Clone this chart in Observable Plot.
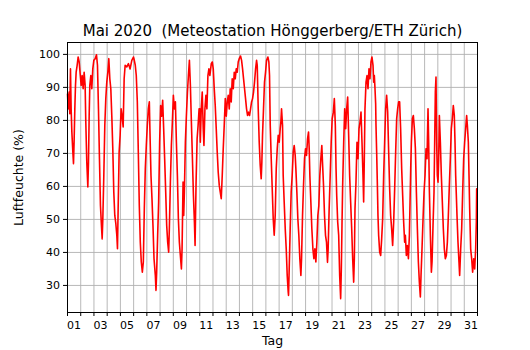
<!DOCTYPE html>
<html>
<head>
<meta charset="utf-8">
<script src="https://cdn.jsdelivr.net/npm/d3@7"></script>
<script src="https://cdn.jsdelivr.net/npm/@observablehq/plot@0.6"></script>
<style>
  html, body { margin: 0; padding: 0; background: white; }
</style>
</head>
<body>
<div id="chart"></div>
<script>
// Hours since 2020-05-01 00:00 (UTC) and relative humidity (%)
const hours = [
  0,1.2,3,4.2,5.4,6.6,7.9,9.7,10.9,12.1,13.3,14.5,15.7,17.5,19.3,21.2,23,24.8,26.6,28.4,30.2,32,33.2,35,36.9,38.1,39.3,40.5,42.3,44.1,45.9,47.8,50.2,52.6,54.4,56.2,58,59.8,61.6,62.9,64.1,65.9,67.7,69.5,71.3,73.2,75,76.8,78.6,80.4,82.2,84,85.8,87.7,89.5,90.7,91.9,93.7,95.5,97.3,99.1,101,102.8,104.6,107.6,110.6,113.6,116.7,119.7,
  120.6,123,124.8,126.7,128.5,130.3,132.1,133.9,135.8,137.6,139.4,141.2,143,144.8,146.7,148.5,149.7,151.5,153.3,155.1,157,159.4,160.6,161.8,163.6,165.4,167.2,169,170.9,172.7,174.5,176.3,178.2,180,181.8,183.6,184.8,186.7,188.5,190.3,192.1,193.9,195.8,197.6,199.4,201.2,203,204.8,206.7,207.9,209.7,210.9,212.1,213.9,215.7,217.6,219.4,221.2,223,224.8,226.7,228.5,230.3,231.5,233.3,235.2,237,238.8,
  240,241,242.7,244.5,246.3,247.6,249.4,251.2,253,254.8,256.6,258.4,260.9,262.7,264.5,266.3,268.1,269.9,271.7,273.5,275.4,277.2,279,280.8,282.6,284.4,286.3,288.1,289.9,291.7,293.5,295.3,297.1,298.9,300.8,302.6,304.4,306.2,308,309.8,311.6,314,315.9,317.7,319.5,321.3,323.1,324.9,326.7,328.6,330.4,332.2,334,335.8,337.6,339.4,341.3,343.1,344.3,346.1,347.9,349.7,351.5,352.7,353.9,355.7,357.5,359.4,
  361.2,363.6,365.4,366.6,367.9,369.7,371.5,373.3,375.1,376.9,378.8,380.6,382.4,384.2,386,387.2,388.4,390.2,391.4,393.2,395.1,396.9,398.7,400.5,401.1,402.3,404.1,405.9,407.7,409.6,411.4,413.2,414.4,416.2,418,419.8,421.6,423.5,424.7,426.5,428.3,430.1,431.9,433.7,435.6,437.4,438.6,439.8,441.6,443.4,445.3,447.1,448.9,450.7,452.5,454.3,456.1,457.9,459.7,461.5,462.7,464.6,466.4,468.2,470,471.8,473,474.8,476.7,478.5,480.3,
  482.4,484.2,486,487.3,488.5,490.3,492.1,493.9,495.7,496.9,498.1,499.3,501.2,503,504.8,506.6,508.4,510.2,512,513.8,515.7,517.5,519.3,520.5,521.7,523.5,525.3,527.2,529,530.8,532.6,534.4,536.2,537.4,538.6,539.8,541.7,543.5,545.3,547.1,548.9,550.7,552.5,554.4,555.6,556.8,558,559.2,559.8,561,562.2,563.4,564.6,566.5,568.3,570.1,571.9,573.7,575.5,577.3,579.1,581,582.8,584.6,586.4,588.2,590,591.9,593.7,595.5,597.3,599.1,600.9,602.7,604.5,606.4,608.2,610,611.8,
  613.1,614.9,616.7,618.6,620.4,621.6,622.8,624,625.8,627.6,629.4,631.3,633.1,634.9,636.7,638.5,640.3,641.5,643.3,645.2,647,648.8,650.6,652.4,654.2,655.4,656.6,658.5,660.3,661.5,663.3,665.1,666.3,667.5,668.7,669.9,671.1,672.4,673.6,674.8,676.6,678.4,680.2,682,683.8,685.6,687.5,689.3,691.1,692.9,694.7,696.5,698.3,700.1,701.9,703.2,704.4,705.6,706.8,708.6,710.4,711.6,713.5,715.3,717.1,718.9,720.7,722.5,724.3,725.6,727.4,728.6,729.8,731.6,733.4,735.2,737.1,738.9,740.7,741.9,742.5
];
const humidity = [
  88,83.5,88.6,82,95.6,83.5,76.5,70.4,66.9,74.4,83.5,90.6,94.6,96.7,99.2,97.7,94.1,90.6,93.6,89.6,94.6,90.6,79.5,67.4,59.8,67.4,81.3,90.6,93.6,89.6,95.6,98.2,98.7,99.9,96.7,83.5,68.4,54.2,48.2,44.1,50.2,63.3,78.5,86.6,91.6,94.6,98.7,92.6,89.6,81.3,71.4,58.3,51.2,48.7,45.2,41.1,53.2,70.4,75.5,83.5,81.3,78,92.6,96.7,96.2,97.2,95.6,98.2,99.2,
  98.7,96.7,93.6,85.6,70.4,54.2,43.1,37.1,34,37.1,53.2,65.4,72.4,78.5,83.5,85.6,76,63.3,56.3,48.2,38.1,33,28.5,34,45.2,55.3,73.4,84.5,81.3,86.1,77.5,68.4,58.3,48.2,43.1,40.1,47.2,61.3,72.4,79.5,87.6,83.5,85.6,73.4,63.3,50.2,43.1,39.1,35,41.1,61.3,51.2,58.3,73.4,81.3,88.4,93.6,98.2,90.6,79.5,68.4,57.3,49.2,42.1,61.3,74.4,78.5,83.5,
  83.5,73.4,83.5,88.6,77.5,72.4,83.5,87.6,83.5,93.6,95.6,93.6,97.2,97.7,95.6,89.6,84.5,77.5,70.4,64.3,60.3,58.3,56.3,63.3,71.4,78.5,86.6,81.3,85.6,87.6,83.5,89.6,85.6,92.6,89.6,94.6,92.6,95.6,94.6,97.7,98.7,99.5,98.2,95.6,92.6,89.6,86.6,83.5,81.5,82.5,81.5,83.5,85.6,86.6,88.6,91.6,95.6,98.2,96.7,83.5,73.4,66.4,62.3,67.4,75.5,83.5,91.6,94.6,
  98.2,99.2,97.7,93.6,78.5,68.4,59.3,50.2,45.2,51.2,65.4,71.4,75.5,73.4,77.5,79.5,83.5,78.5,63.3,55.3,47.2,41.1,33,28,27,35,47.2,58.3,63.3,70.4,72.4,69.4,65.4,58.3,50.2,45.2,38.1,33,38.1,51.2,60.3,68.4,71.4,69.4,74.4,76.5,71.4,63.3,55.3,47.2,41.1,38.1,41.1,37.1,43.1,51.2,54.2,63.3,68.4,72.4,67.4,60.3,51.2,45.2,43.1,37,41.1,53.2,63.3,73.4,80.5,
  82.5,86.6,78.5,65.4,57.3,49.2,45.2,33,26,35,48.2,60.3,73.4,83.5,77.5,83.5,87.1,75.5,63.3,55.3,47.2,38.1,31,38.1,53.2,61.3,73.4,68.4,77.5,79.5,82.5,73.4,63.3,55.3,68.4,83.5,91.6,93.6,89.6,95.6,92.6,97.7,99.2,96.7,91.6,93.6,89.6,85,78.5,70.4,61.3,51.2,45.2,40.1,39.1,44.1,50.2,63.3,73.4,83.5,87.6,82.5,70.4,59.3,51.2,47.2,42.1,49.2,59.3,70.4,80.5,83.5,85.6,85.6,77.5,65.4,57.3,49.2,43.1,
  45.2,39.1,42.1,38.1,45.2,55.3,65.4,73.4,80.5,81.5,77.5,71.4,58.3,47.2,37.1,31,26.5,33,41.1,50.2,58.3,63.3,71.4,68.4,83.5,73.4,59.3,45.2,34,37.1,48.2,58.3,73.4,88.6,93.1,73.4,63.3,61.3,68.4,81.5,73.4,63.3,55.3,47.2,41.1,38.1,39.1,43.1,51.2,60.3,68.4,77.5,80.5,84.5,81.5,73.4,63.3,57.3,51.2,43.1,37.1,33,41.1,47.2,58.3,68.4,73.4,77.5,81.5,78.5,73.4,63.3,53.2,41.1,38.1,34,38.1,35,41.1,49.2,59.3
];
const dayLabels = ["01","03","05","07","09","11","13","15","17","19","21","23","25","27","29","31"];
const yTicks = [30, 40, 50, 60, 70, 80, 90, 100];
const titleText = "Mai 2020  (Meteostation Hönggerberg/ETH Zürich)";
const xLabel = "Tag";
const yLabel = "Luftfeuchte (%)";

const start = Date.UTC(2020, 4, 1);
const data = hours.map((h, i) => ({date: new Date(start + h * 3600000), rh: humidity[i]}));
const xStart = new Date(Date.UTC(2020, 4, 1));
const xEnd = new Date(Date.UTC(2020, 5, 1));
const dayTicks = d3.utcDay.range(xStart, new Date(Date.UTC(2020, 5, 1, 1)));
const labelTicks = dayLabels.map(d => new Date(Date.UTC(2020, 4, +d, 12)));

const chart = Plot.plot({
  width: 530,
  height: 350,
  marginLeft: 67,
  marginRight: 53,
  marginTop: 42,
  marginBottom: 38,
  style: {fontFamily: "'DejaVu Sans', sans-serif", fontSize: "11px", background: "white", color: "black"},
  x: {type: "utc", domain: [xStart, xEnd], label: null},
  y: {domain: [21.8, 103.6], label: null},
  marks: [
    Plot.gridX(dayTicks, {stroke: "#b0b0b0", strokeOpacity: 1, strokeWidth: 0.9}),
    Plot.gridY(yTicks, {stroke: "#b0b0b0", strokeOpacity: 1, strokeWidth: 0.9}),
    Plot.lineY(data, {x: "date", y: "rh", stroke: "#ff0000", strokeWidth: 1.6}),
    Plot.frame({stroke: "black", strokeWidth: 1}),
    Plot.axisX(dayTicks, {tickSize: 4, tickFormat: () => "", label: null}),
    Plot.axisX(labelTicks, {tickSize: 0, tickPadding: 9, tickFormat: d3.utcFormat("%d"), label: null, fontSize: 11}),
    Plot.axisY(yTicks, {tickSize: 4, tickPadding: 3.5, label: null, fontSize: 11}),
    Plot.text([titleText], {frameAnchor: "top", dy: -17.5, fontSize: 15, fill: "black"}),
    Plot.text([xLabel], {frameAnchor: "bottom", dy: 32.5, fontSize: 12.5, fill: "black"}),
    Plot.text([yLabel], {frameAnchor: "left", dx: -48.5, rotate: -90, textAnchor: "middle", fontSize: 12.5, fill: "black"})
  ]
});
document.getElementById("chart").appendChild(chart);
</script>
</body>
</html>
